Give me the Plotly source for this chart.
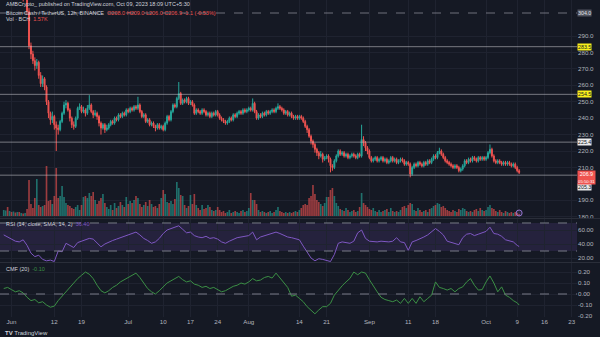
import pandas as pd
import plotly.graph_objects as go

# ---- BCH/USDT, 12h bars from 2023-05-30 ----
bar_start = "2023-05-30 00:00"
first_open = 318

closes = [
    322, 326, 320, 324, 319, 321, 317, 320, 315, 318,
    313, 316, 305, 284, 279, 275, 272, 274, 266, 261,
    264, 259, 250, 243, 239, 241, 236, 234, 233, 238,
    243, 248, 249, 245, 240, 236, 235, 240, 246, 247,
    244, 245, 243, 246, 248, 244, 242, 243, 241, 237,
    234, 236, 233, 234, 236, 238, 237, 240, 239, 242,
    241, 243, 242, 245, 244, 246, 245, 247, 246, 248,
    244, 241, 242, 238, 239, 236, 237, 235, 234, 236,
    234, 235, 233, 237, 241, 239, 244, 248, 247, 252,
    255, 249, 251, 250, 252, 249, 250, 248, 243, 245,
    244, 243, 245, 244, 242, 243, 241, 243, 242, 244,
    242, 240, 239, 238, 237, 238, 240, 239, 242, 241,
    243, 244, 243, 245, 244, 245, 246, 245, 249, 244,
    240, 242, 241, 243, 242, 244, 243, 244, 245, 244,
    246, 247, 246, 245, 243, 244, 242, 243, 241, 240,
    241, 240, 241, 240, 238, 235, 233, 229, 226, 224,
    221, 219, 217, 218, 215, 216, 217, 215, 211, 210,
    214, 217, 220, 218, 219, 217, 218, 216, 217, 218,
    217, 216, 218, 217, 227, 225, 222, 220, 216, 214,
    215, 216, 214, 215, 216, 214, 215, 213, 214, 216,
    214, 215, 213, 214, 215, 214, 212, 213, 212, 206,
    210, 212, 211, 213, 212, 211, 213, 212, 214, 213,
    215, 217, 216, 219, 220, 218, 216, 214, 213, 212,
    211, 210, 211, 210, 208, 209, 211, 214, 213, 215,
    214, 216, 215, 214, 216, 215, 216, 215, 216, 219,
    221, 217, 214, 213, 214, 213, 212, 213, 212, 213,
    212, 211, 212, 210, 208, 206.9,
]

highs = [
    325, 329, 327, 326, 325, 323, 322, 322, 321, 320,
    319, 318, 317, 307, 286, 281, 277, 276, 275, 268,
    266, 265, 260, 251, 244, 244, 242, 238, 236, 239,
    244, 250, 251, 250, 246, 241, 238, 241, 247, 249,
    248, 247, 246, 248, 254, 249, 245, 245, 244, 242,
    238, 237, 237, 236, 237, 239, 239, 241, 241, 243,
    243, 244, 244, 246, 246, 247, 247, 248, 248, 253,
    249, 245, 243, 243, 240, 240, 238, 238, 236, 237,
    237, 236, 236, 238, 242, 242, 245, 249, 249, 253,
    262, 256, 252, 252, 253, 253, 251, 251, 249, 246,
    246, 245, 246, 246, 245, 244, 244, 244, 244, 245,
    245, 243, 241, 240, 239, 239, 241, 241, 243, 243,
    244, 245, 245, 246, 246, 246, 247, 247, 252, 250,
    245, 243, 243, 244, 244, 245, 245, 245, 246, 246,
    247, 249, 248, 247, 246, 245, 245, 244, 244, 242,
    242, 242, 242, 242, 241, 239, 236, 234, 230, 227,
    225, 222, 220, 220, 219, 217, 218, 218, 216, 212,
    215, 218, 221, 221, 220, 220, 219, 219, 218, 219,
    219, 218, 219, 219, 236, 229, 226, 223, 221, 217,
    216, 217, 217, 216, 217, 217, 216, 216, 215, 217,
    217, 216, 216, 215, 216, 216, 215, 214, 214, 213,
    211, 213, 213, 214, 214, 213, 214, 214, 215, 215,
    216, 218, 218, 220, 222, 221, 219, 217, 215, 214,
    213, 212, 212, 212, 211, 210, 212, 215, 215, 216,
    216, 217, 217, 216, 217, 217, 217, 217, 217, 220,
    224, 222, 218, 215, 215, 215, 214, 214, 214, 214,
    214, 213, 213, 213, 211, 209,
]

lows = [
    316, 320, 318, 319, 317, 317, 315, 316, 313, 314,
    311, 312, 303, 282, 276, 273, 269, 270, 264, 259,
    259, 257, 248, 240, 236, 237, 233, 220, 230, 232,
    237, 242, 246, 244, 238, 234, 233, 234, 239, 245,
    243, 243, 241, 242, 245, 243, 240, 241, 239, 235,
    230, 233, 231, 232, 233, 235, 236, 236, 238, 238,
    240, 240, 241, 241, 243, 243, 244, 244, 245, 245,
    243, 240, 240, 237, 237, 235, 235, 234, 232, 233,
    233, 233, 232, 232, 236, 238, 238, 243, 246, 246,
    251, 248, 248, 249, 249, 248, 248, 247, 242, 242,
    243, 242, 242, 243, 241, 241, 240, 240, 241, 241,
    241, 239, 238, 237, 236, 236, 237, 238, 238, 240,
    240, 242, 242, 242, 243, 243, 244, 244, 244, 243,
    239, 239, 240, 240, 241, 241, 242, 242, 243, 243,
    243, 245, 245, 244, 242, 242, 241, 241, 240, 239,
    239, 239, 239, 239, 237, 234, 231, 228, 224, 222,
    219, 217, 215, 216, 213, 214, 215, 213, 207, 208,
    209, 213, 216, 217, 217, 216, 216, 215, 215, 216,
    216, 215, 215, 216, 216, 223, 220, 218, 215, 213,
    213, 214, 213, 213, 214, 213, 213, 212, 212, 213,
    213, 213, 212, 212, 213, 213, 211, 211, 211, 204,
    205, 209, 210, 210, 211, 210, 210, 211, 211, 212,
    212, 214, 215, 215, 218, 217, 215, 213, 212, 211,
    210, 209, 209, 209, 207, 207, 208, 210, 212, 212,
    213, 213, 214, 213, 213, 214, 214, 214, 214, 215,
    218, 216, 213, 212, 212, 212, 211, 211, 211, 211,
    211, 210, 210, 209, 207, 206,
]

# volume in thousands of BCH
volumes_k = [
    4.8, 4.4, 7.2, 4.0, 3.2, 3.6, 2.8, 3.2, 3.2, 2.4,
    2.0, 2.4, 5.6, 28.8, 9.6, 6.4, 14.4, 29.6, 8.8, 7.2,
    8.0, 8.8, 40.0, 12.0, 12.8, 9.6, 16.0, 38.4, 14.4, 16.0,
    24.0, 15.2, 10.4, 8.8, 8.0, 6.4, 5.6, 7.2, 8.8, 4.8,
    8.8, 15.2, 16.0, 14.4, 18.4, 16.0, 19.2, 12.8, 9.6, 12.0,
    14.4, 17.6, 10.4, 7.2, 5.6, 8.8, 4.8, 10.4, 6.4, 8.0,
    11.2, 8.8, 7.2, 15.2, 9.6, 12.0, 10.4, 12.8, 16.0, 14.4,
    9.6, 7.2, 8.8, 11.2, 8.0, 12.8, 9.6, 7.2, 8.0, 6.4,
    9.6, 14.4, 20.8, 17.6, 11.2, 10.4, 12.0, 9.6, 13.6, 27.2,
    22.4, 16.8, 16.0, 8.8, 6.4, 8.0, 16.8, 9.6, 17.6, 8.8,
    6.4, 4.8, 8.8, 5.6, 6.4, 8.8, 7.2, 4.8, 4.0, 4.8,
    7.2, 4.8, 3.2, 4.0, 2.4, 3.2, 4.8, 2.4, 3.2, 4.0,
    3.2, 2.4, 4.0, 4.8, 3.2, 4.0, 6.4, 18.4, 12.8, 12.8,
    9.6, 4.8, 3.2, 4.0, 3.2, 2.4, 3.2, 4.0, 2.4, 3.2,
    4.8, 7.2, 4.0, 3.2, 2.4, 3.2, 2.4, 3.2, 2.4, 3.2,
    4.0, 3.2, 4.8, 6.4, 8.8, 9.6, 8.8, 14.4, 16.0, 24.8,
    17.6, 12.8, 11.2, 9.6, 8.0, 10.4, 15.2, 15.2, 20.8, 22.4,
    16.0, 10.4, 8.0, 5.6, 4.8, 4.0, 6.4, 4.8, 3.2, 4.0,
    4.8, 3.2, 4.0, 7.2, 18.4, 10.4, 8.8, 7.2, 5.6, 4.8,
    6.4, 4.0, 3.2, 4.8, 3.2, 4.0, 4.8, 5.6, 3.2, 6.4,
    4.0, 3.2, 4.0, 3.2, 4.8, 7.2, 8.0, 6.4, 8.8, 10.4,
    9.6, 4.8, 4.0, 6.4, 4.8, 3.2, 4.0, 4.8, 3.2, 5.6,
    6.4, 8.0, 8.8, 10.4, 9.6, 7.2, 8.0, 6.4, 4.8, 4.0,
    3.2, 4.8, 4.0, 3.2, 5.6, 4.8, 6.4, 5.6, 4.0, 3.2,
    4.0, 3.2, 4.8, 5.6, 4.0, 6.4, 4.8, 4.0, 4.8, 7.2,
    8.8, 6.4, 5.6, 4.0, 3.2, 4.8, 3.2, 2.4, 4.0, 3.2,
    2.4, 3.2, 2.4, 3.2, 2.4, 1.57,
]

# daily indicator readings, last one at the 12:00 bar of Oct 9
indicator_start = "2023-05-30"
indicator_last = "2023-10-09 12:00"
rsi_values = [
    53, 50, 48, 44, 43, 46, 38, 27, 22, 24,
    18, 16, 17, 15, 30, 29, 41, 38, 35, 42,
    44, 46, 48, 47, 41, 36, 40, 43, 45, 47,
    49, 51, 53, 55, 57, 53, 48, 45, 41, 43,
    48, 55, 60, 62, 64, 66, 61, 56, 57, 52,
    50, 49, 51, 48, 49, 47, 43, 41, 44, 47,
    49, 50, 51, 52, 57, 46, 50, 52, 53, 55,
    57, 55, 52, 50, 49, 47, 46, 37, 29, 20,
    16, 19, 18, 17, 15, 25, 41, 43, 42, 41,
    44, 56, 60, 48, 44, 43, 43, 44, 43, 43,
    44, 49, 43, 42, 31, 43, 45, 47, 50, 53,
    58, 62, 58, 53, 44, 42, 41, 39, 49, 54,
    55, 52, 54, 56, 58, 64, 55, 54, 51, 46,
    44, 43, 38, 36.4,
]
cmf_values = [
    0.05, 0.06, 0.04, 0.02, 0.03, 0.01, -0.03, -0.06, -0.05, -0.08,
    -0.07, -0.10, -0.12, -0.11, -0.06, -0.02, 0.03, 0.06, 0.10, 0.14,
    0.17, 0.20, 0.18, 0.14, 0.08, 0.03, 0.01, 0.03, 0.06, 0.08,
    0.11, 0.13, 0.15, 0.17, 0.19, 0.15, 0.10, 0.05, 0.02, 0.00,
    0.03, 0.07, 0.10, 0.12, 0.14, 0.16, 0.13, 0.11, 0.12, 0.09,
    0.08, 0.06, 0.07, 0.05, 0.06, 0.04, 0.02, 0.03, 0.05, 0.07,
    0.08, 0.10, 0.09, 0.11, 0.14, 0.12, 0.127, 0.15, 0.16, 0.145,
    0.19, 0.15, 0.11, 0.06, -0.02, -0.01, -0.04, -0.07, -0.115, -0.15,
    -0.18, -0.145, -0.115, -0.115, -0.085, -0.01, 0.036, 0.075, 0.11, 0.142,
    0.20, 0.175, 0.20, 0.19, 0.13, 0.07, 0.02, -0.03, -0.05, -0.06,
    -0.07, -0.055, -0.085, -0.04, -0.085, -0.04, -0.085, -0.025, -0.07, -0.04,
    -0.01, 0.11, 0.06, 0.05, 0.036, 0.05, 0.02, 0.05, 0.065, 0.11,
    0.14, 0.08, 0.036, 0.04, 0.11, 0.164, 0.10, 0.02, 0.065, -0.01,
    -0.03, -0.06, -0.08, -0.10,
]

# horizontal levels drawn on the chart: (price, label background, label shift in px)
levels = [
    (283.5, "#f7f01c", 0),
    (254.5, "#f7f01c", 0),
    (225.4, "#e9e9ea", 0),
    (205.3, "#e9e9ea", -12),
]
range_high = 304.0
bar_countdown = "05:50:31"

price_ticks = [180, 190, 210, 220, 230, 240, 250, 260, 270, 280, 290]
rsi_ticks = [20, 40, 60]
cmf_ticks = [-0.2, -0.1, 0.0, 0.1, 0.2]

time_tick_dates = ["2023-06-01", "2023-06-12", "2023-06-19", "2023-07-01", "2023-07-10",
                   "2023-07-17", "2023-07-24", "2023-08-01", "2023-08-14", "2023-08-21",
                   "2023-09-01", "2023-09-11", "2023-09-18", "2023-10-01", "2023-10-09",
                   "2023-10-16", "2023-10-23"]
time_tick_text = ["Jun", "12", "19", "Jul", "10", "17", "24", "Aug", "14", "21",
                  "Sep", "11", "18", "Oct", "9", "16", "23"]

# ---- derived series ----
opens = [first_open] + closes[:-1]
bar_times = pd.date_range(bar_start, periods=len(closes), freq="12h")
ind_times = list(pd.date_range(indicator_start, periods=len(rsi_values) - 1, freq="D")) + [pd.Timestamp(indicator_last)]

UP = "#26a69a"
DOWN = "#ef5350"
BG = "#151924"
GRID = "#1f2330"
TXT = "#b2b5be"
RSI_C = "#7e57c2"
CMF_C = "#3b8f45"
FONT = "Liberation Sans, Arial, sans-serif"

vol_colors = ["rgba(38,166,154,0.62)" if c >= o else "rgba(239,83,80,0.62)" for o, c in zip(opens, closes)]

fig = go.Figure()

fig.add_trace(go.Bar(
    x=bar_times, y=volumes_k, marker=dict(color=vol_colors, line=dict(width=0)),
    xaxis="x", yaxis="y2", hoverinfo="skip",
))
fig.add_trace(go.Candlestick(
    x=bar_times, open=opens, high=highs, low=lows, close=closes,
    increasing=dict(line=dict(color=UP, width=1), fillcolor=UP),
    decreasing=dict(line=dict(color=DOWN, width=1), fillcolor=DOWN),
    whiskerwidth=0, xaxis="x", yaxis="y",
))
fig.add_trace(go.Scatter(
    x=ind_times, y=rsi_values, mode="lines", line=dict(color=RSI_C, width=1),
    xaxis="x", yaxis="y3",
))
fig.add_trace(go.Scatter(
    x=ind_times, y=cmf_values, mode="lines", line=dict(color=CMF_C, width=1),
    xaxis="x", yaxis="y4",
))

# pane geometry (plot area 317 px tall)
PH = 317.0
def py(px):
    return (PH - px) / PH

main_dom = [py(218), 1.0]
rsi_dom = [py(262), py(219)]
cmf_dom = [0.0, py(263)]

axis_font = dict(family=FONT, size=6.2, color=TXT)

fig.update_layout(
    width=600, height=337,
    margin=dict(l=0, r=23, t=0, b=20),
    paper_bgcolor=BG, plot_bgcolor=BG,
    showlegend=False, bargap=0.15,
    font=dict(family=FONT, color=TXT),
    xaxis=dict(
        type="date", range=["2023-05-29 01:00", "2023-10-24 09:00"],
        anchor="y4", tickvals=time_tick_dates, ticktext=time_tick_text,
        tickfont=axis_font, showgrid=True, gridcolor=GRID, gridwidth=1,
        zeroline=False, showline=False, ticks="", rangeslider=dict(visible=False),
        fixedrange=True,
    ),
    yaxis=dict(
        domain=main_dom, range=[179.23, 311.91], side="right", anchor="x",
        tickvals=price_ticks, ticktext=[f"{v:.1f}" for v in price_ticks],
        tickfont=axis_font, showgrid=True, gridcolor=GRID, zeroline=False, ticks="",
    ),
    yaxis2=dict(
        domain=main_dom, overlaying="y", range=[-1.6, 172.8], visible=False,
    ),
    yaxis3=dict(
        domain=rsi_dom, range=[14.3, 75.7], side="right", anchor="x",
        tickvals=rsi_ticks, ticktext=[f"{v:.2f}" for v in rsi_ticks],
        tickfont=axis_font, showgrid=True, gridcolor=GRID, zeroline=False, ticks="",
    ),
    yaxis4=dict(
        domain=cmf_dom, range=[-0.209, 0.282], side="right", anchor="x",
        tickvals=cmf_ticks, ticktext=[f"{v:.2f}" for v in cmf_ticks],
        tickfont=axis_font, showgrid=True, gridcolor=GRID, zeroline=False, ticks="",
    ),
)

shapes = []
# RSI band
shapes.append(dict(type="rect", xref="paper", x0=0, x1=1, yref="y3", y0=30, y1=70,
                   fillcolor="rgba(126,87,194,0.16)", line=dict(width=0), layer="below"))
for lvl in (70, 30):
    shapes.append(dict(type="line", xref="paper", x0=0, x1=1, yref="y3", y0=lvl, y1=lvl,
                       line=dict(color="#787b86", width=1, dash="dash")))
shapes.append(dict(type="line", xref="paper", x0=0, x1=1, yref="y4", y0=0, y1=0,
                   line=dict(color="#787b86", width=1, dash="dash")))
# pane separators
for sep in (218.5, 262.5):
    shapes.append(dict(type="line", xref="paper", x0=0, x1=1.04, yref="paper", y0=py(sep), y1=py(sep),
                       line=dict(color="#2a2e39", width=1)))
# price levels
for price, _, _ in levels:
    shapes.append(dict(type="line", xref="paper", x0=0, x1=1, yref="y", y0=price, y1=price,
                       line=dict(color="rgba(200,200,205,0.55)", width=1)))
shapes.append(dict(type="line", xref="paper", x0=0, x1=1, yref="y", y0=range_high, y1=range_high,
                   line=dict(color="rgba(150,150,160,0.7)", width=1, dash="dash")))
# event marker under the last bar
shapes.append(dict(type="circle", xref="x", xsizemode="pixel", xanchor=bar_times[-1],
                   x0=-3, x1=3, yref="paper", ysizemode="pixel", yanchor=py(213), y0=-3, y1=3,
                   line=dict(color="#9575cd", width=1), fillcolor="rgba(149,117,205,0.15)"))
fig.update_layout(shapes=shapes)

ann = []
def axis_box(y, yref, text, bg, fg, shift=0, anchor="middle", size=5.3):
    ann.append(dict(xref="paper", x=1, xanchor="left", xshift=0, yref=yref, y=y, yanchor=anchor,
                    yshift=shift, text=text, showarrow=False, bgcolor=bg, borderpad=0,
                    font=dict(family=FONT, size=size, color=fg)))

for price, bg, shift in levels:
    axis_box(price, "y", f"{price:.1f}", bg, "#131722", shift)
axis_box(range_high, "y", f"{range_high:.1f}", "#50535e", "#e0e3eb")
last = closes[-1]
axis_box(last, "y", f"{last:.1f}<br><span style='font-size:4.3px'>{bar_countdown}</span>",
         DOWN, "#ffffff", shift=3, anchor="top")

def header(px_y, text, size=5.5):
    ann.append(dict(xref="paper", x=0, xanchor="left", xshift=4, yref="paper", y=py(px_y),
                    yanchor="middle", text=text, showarrow=False,
                    font=dict(family=FONT, size=size, color="#d1d4dc")))

chg = closes[-1] - closes[-2]
pct = chg / closes[-2] * 100
header(4, "AMBCrypto_ published on TradingView.com, Oct 09, 2023 18:09 UTC+5:30")
header(13, "Bitcoin Cash / TetherUS, 12h, BINANCE  "
           f"<span style='color:{DOWN}'>O{opens[-1]:.1f} H{highs[-1]:.1f} L{lows[-1]:.1f} "
           f"C{closes[-1]:.1f} {chg:+.1f} ({pct:+.2f}%)</span>")
header(19.5, f"Vol · BCH  <span style='color:{DOWN}'>{volumes_k[-1]:.2f}K</span>")
header(224, f"RSI (14, close, SMA, 14, 2)  <span style='color:{RSI_C}'>{rsi_values[-1]:.2f}</span>")
header(269, f"CMF (20)  <span style='color:{CMF_C}'>{cmf_values[-1]:.2f}</span>")
ann.append(dict(xref="paper", x=0, xanchor="left", xshift=3, yref="paper", y=py(333),
                yanchor="middle", text="<b>TV</b> TradingView", showarrow=False,
                font=dict(family=FONT, size=6, color="#d1d4dc")))
fig.update_layout(annotations=ann)

fig.write_html("out.html")
